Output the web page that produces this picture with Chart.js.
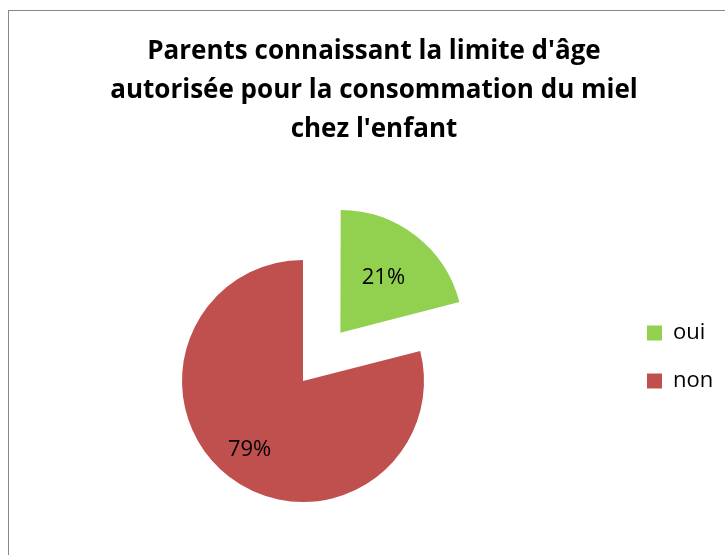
<!DOCTYPE html>
<html lang="fr">
<head>
<meta charset="utf-8">
<title>Limite d'âge miel</title>
<script src="https://cdn.jsdelivr.net/npm/chart.js@4.4.1/dist/chart.umd.min.js"></script>
<style>
    html, body { margin: 0; padding: 0; background: #fff; overflow: hidden; }
    body { width: 725px; height: 555px; position: relative; }
    /* cadre du graphique (style Excel) */
    #cadre {
        position: absolute; left: 8px; top: 10px;
        width: 800px; height: 600px;
        border: 1px solid #868686;
        box-sizing: border-box;
    }
    #graphique { position: absolute; left: -15px; top: 0; }
</style>
</head>
<body>
<div id="cadre"></div>
<canvas id="graphique" width="778" height="555"></canvas>

<script>
// données du graphique
const titre = ["Parents connaissant la limite d'âge", "autorisée pour la consommation du miel", "chez l'enfant"];
const reponses = ['oui', 'non'];
const valeurs = [21, 79];
const couleurs = ['#92D050', '#C0504D'];

// position des étiquettes (fraction du rayon)
const posEtiquettes = [0.58, 0.72];

Chart.defaults.font.family = '"Open Sans", sans-serif';
Chart.defaults.color = '#000';

// étiquettes de pourcentage sur les parts
const etiquettesPct = {
    id: 'etiquettesPct',
    afterDatasetsDraw(chart) {
        const ctx = chart.ctx;
        const meta = chart.getDatasetMeta(0);
        const total = valeurs.reduce((s, v) => s + v, 0);
        ctx.save();
        ctx.font = '22px "Open Sans"';
        ctx.fillStyle = '#000';
        ctx.textAlign = 'center';
        ctx.textBaseline = 'middle';
        meta.data.forEach(function (arc, i) {
            const p = arc.getProps(['x', 'y', 'startAngle', 'endAngle', 'outerRadius'], true);
            const milieu = (p.startAngle + p.endAngle) / 2;
            // chart.js déplace la part de offset / 4
            const d = (arc.options.offset || 0) / 4 + p.outerRadius * posEtiquettes[i];
            const texte = Math.round(valeurs[i] / total * 100) + '%';
            ctx.fillText(texte, p.x + Math.cos(milieu) * d, p.y + Math.sin(milieu) * d);
        });
        ctx.restore();
    }
};

// légende : largeur fixe et remontée un peu (comme dans Excel)
const reglageLegende = {
    id: 'reglageLegende',
    beforeInit(chart) {
        const fitOrig = chart.legend.fit;
        chart.legend.fit = function () {
            fitOrig.call(this);
            this.width = Math.max(this.width, 142);
        };
    },
    afterLayout(chart) {
        chart.legend.top -= 24;
        chart.legend.bottom -= 24;
    }
};

let ctxGraph = document.getElementById('graphique').getContext('2d');

let graphMiel = new Chart(ctxGraph, {
    type: 'pie',
    data: {
        labels: reponses,
        datasets: [{
            data: valeurs,
            backgroundColor: couleurs,
            borderWidth: 0,
            offset: [244, 0],
            hoverOffset: 0
        }]
    },
    options: {
        responsive: false,
        animation: false,
        radius: 121,
        layout: { padding: 0 },
        plugins: {
            title: {
                display: true,
                text: titre,
                color: '#000',
                font: { size: 26, weight: 'bold', lineHeight: 1.5 },
                padding: { top: 32.5, bottom: 57.5 }
            },
            legend: {
                position: 'right',
                fullSize: false,
                labels: {
                    boxWidth: 15,
                    boxHeight: 15,
                    padding: 26,
                    color: '#000',
                    font: { size: 22 }
                }
            },
            tooltip: { enabled: false }
        }
    },
    plugins: [etiquettesPct, reglageLegende]
});
</script>
</body>
</html>
